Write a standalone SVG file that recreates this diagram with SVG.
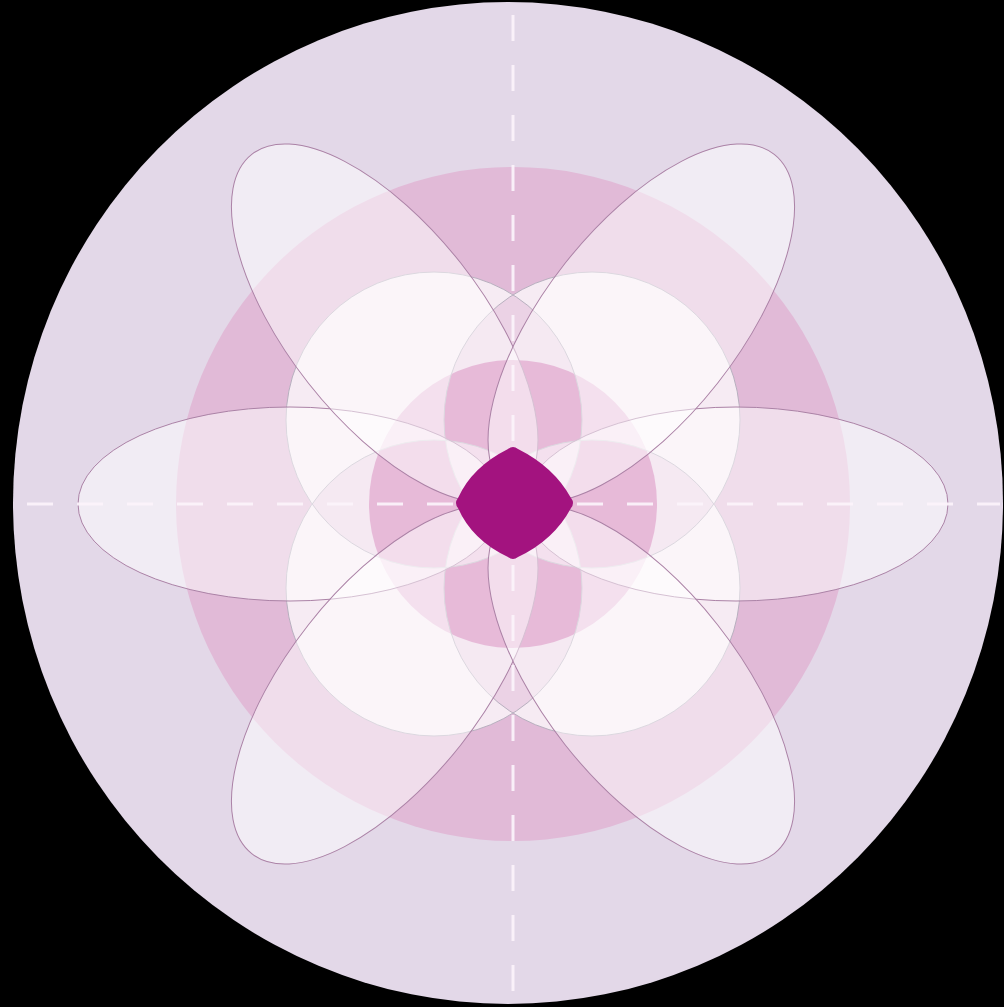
<svg xmlns="http://www.w3.org/2000/svg" width="1004" height="1007" viewBox="0 0 1004 1007">
  <style>
    .petal { fill: #ffffff; fill-opacity: 0.5; stroke: #ab82a6; stroke-width: 1; }
    .ring-outline { fill: none; stroke: #b8b0bf; stroke-width: 1; }
    .axis { stroke: #fcf4fb; stroke-width: 3; stroke-dasharray: 26 24; opacity: 0.92; }
  </style>
  <rect x="0" y="0" width="1004" height="1007" fill="#000000"/>
  <g id="background">
    <ellipse cx="508" cy="503" rx="495" ry="501" fill="#e3d8e8"/>
    <circle cx="513" cy="504" r="337" fill="#e1bad7"/>
    <circle cx="513" cy="504" r="144" fill="#b42a88"/>
  </g>
  <g id="circles">
    <g opacity="0.35" fill="#ffffff">
      <circle cx="434" cy="420" r="148"/>
      <circle cx="592" cy="420" r="148"/>
      <circle cx="434" cy="588" r="148"/>
      <circle cx="592" cy="588" r="148"/>
    </g>
    <path fill="#ffffff" fill-opacity="0.55" fill-rule="evenodd" d="M286 420a148 148 0 1 0 296 0a148 148 0 1 0 -296 0Z M444 420a148 148 0 1 0 296 0a148 148 0 1 0 -296 0Z M286 588a148 148 0 1 0 296 0a148 148 0 1 0 -296 0Z M444 588a148 148 0 1 0 296 0a148 148 0 1 0 -296 0Z"/>
    <circle class="ring-outline" cx="434" cy="420" r="148"/>
    <circle class="ring-outline" cx="592" cy="420" r="148"/>
    <circle class="ring-outline" cx="434" cy="588" r="148"/>
    <circle class="ring-outline" cx="592" cy="588" r="148"/>
  </g>
  <g id="petals">
    <ellipse class="petal" cx="290" cy="504" rx="212" ry="97"/>
    <ellipse class="petal" cx="736" cy="504" rx="212" ry="97"/>
    <ellipse class="petal" cx="384.7" cy="323.3" rx="215" ry="97" transform="rotate(51.8 384.7 323.3)"/>
    <ellipse class="petal" cx="641.3" cy="323.3" rx="215" ry="97" transform="rotate(-51.8 641.3 323.3)"/>
    <ellipse class="petal" cx="384.7" cy="684.7" rx="215" ry="97" transform="rotate(-51.8 384.7 684.7)"/>
    <ellipse class="petal" cx="641.3" cy="684.7" rx="215" ry="97" transform="rotate(51.8 641.3 684.7)"/>
  </g>
  <g id="axes">
    <line class="axis" x1="27" y1="504" x2="1000" y2="504"/>
    <line class="axis" x1="513" y1="15" x2="513" y2="1000"/>
  </g>
  <g id="center">
    <path fill="#a3137f" d="M508 449 Q513 445 518 449 Q554 467 571 498 Q575 503 571 508 Q554 540 518 557 Q513 561 508 557 Q472 540 458 508 Q454 503 458 498 Q472 467 508 449 Z"/>
  </g>
</svg>
